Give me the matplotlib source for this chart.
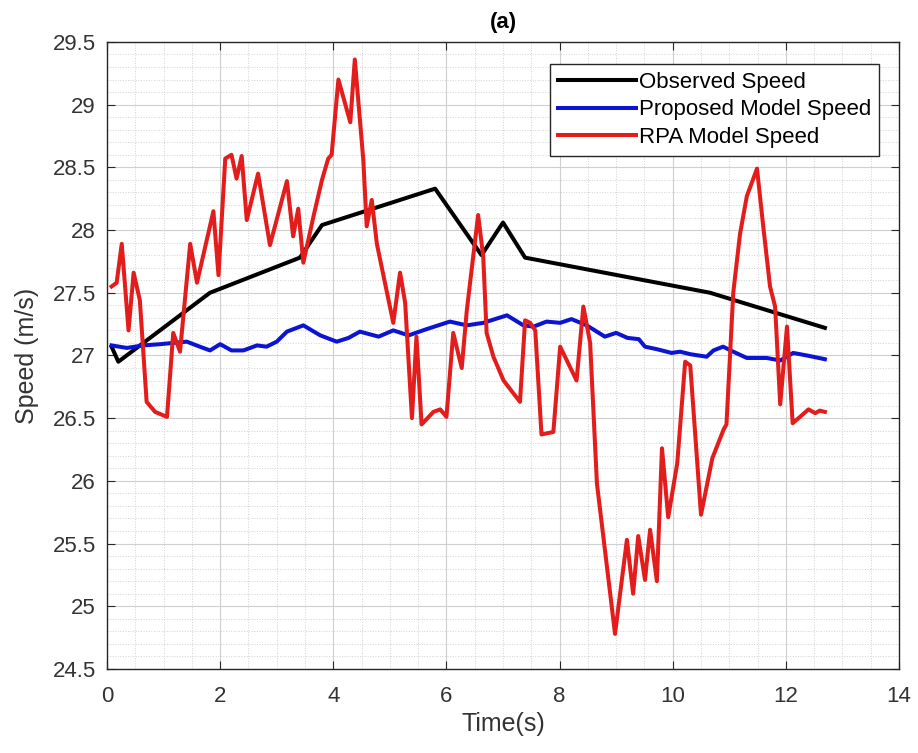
import numpy as np
import matplotlib.pyplot as plt
from matplotlib.ticker import MultipleLocator

plt.rcParams['font.family'] = ['Liberation Sans', 'DejaVu Sans']

# observed speed (m/s)
t_obs = [0.08, 0.2, 1.82, 3.41, 3.8, 5.8, 6.62, 7.0, 7.39, 10.66, 12.69]
v_obs = [27.07, 26.95, 27.5, 27.78, 28.04, 28.33, 27.8, 28.06, 27.78, 27.5, 27.22]

# proposed model
t_prop = [0.08, 0.35, 0.64, 0.94, 1.41, 1.64, 1.82, 2.0, 2.2, 2.41, 2.65, 2.82, 3.0,
          3.18, 3.47, 3.77, 4.06, 4.27, 4.47, 4.8, 5.06, 5.33, 5.65, 6.06, 6.36,
          6.65, 7.07, 7.36, 7.54, 7.77, 8.01, 8.21, 8.48, 8.8, 9.0, 9.2, 9.4, 9.51,
          9.72, 9.98, 10.13, 10.31, 10.6, 10.72, 10.89, 11.07, 11.31, 11.66, 11.9,
          12.13, 12.37, 12.69]
v_prop = [27.08, 27.06, 27.08, 27.09, 27.11, 27.07, 27.04, 27.09, 27.04, 27.04, 27.08,
          27.07, 27.11, 27.19, 27.24, 27.16, 27.11, 27.14, 27.19, 27.15, 27.2, 27.16,
          27.21, 27.27, 27.24, 27.26, 27.32, 27.24, 27.23, 27.27, 27.26, 27.29, 27.24,
          27.15, 27.18, 27.14, 27.13, 27.07, 27.05, 27.02, 27.03, 27.01, 26.99, 27.04,
          27.07, 27.03, 26.98, 26.98, 26.96, 27.02, 27.0, 26.97]

# RPA model
t_rpa = [0.08, 0.17, 0.26, 0.38, 0.47, 0.58, 0.70, 0.85, 1.06, 1.17, 1.29, 1.47, 1.59,
         1.88, 1.97, 2.09, 2.20, 2.29, 2.38, 2.47, 2.67, 2.88, 3.18, 3.29, 3.38, 3.47,
         3.65, 3.80, 3.91, 3.97, 4.09, 4.30, 4.38, 4.53, 4.59, 4.68, 4.77, 5.06, 5.18,
         5.27, 5.39, 5.47, 5.56, 5.77, 5.89, 6.00, 6.12, 6.27, 6.36, 6.56, 6.65, 6.71,
         6.83, 7.01, 7.18, 7.30, 7.39, 7.48, 7.57, 7.68, 7.89, 8.01, 8.30, 8.42, 8.54,
         8.66, 8.98, 9.19, 9.30, 9.39, 9.51, 9.60, 9.72, 9.81, 9.92, 10.08, 10.22,
         10.31, 10.50, 10.70, 10.90, 10.95, 11.07, 11.19, 11.31, 11.49, 11.60, 11.72,
         11.81, 11.90, 12.02, 12.12, 12.25, 12.40, 12.52, 12.60, 12.69]
v_rpa = [27.55, 27.58, 27.89, 27.20, 27.66, 27.44, 26.63, 26.55, 26.51, 27.18, 27.03,
         27.89, 27.58, 28.15, 27.64, 28.57, 28.60, 28.41, 28.59, 28.08, 28.45, 27.88,
         28.39, 27.95, 28.17, 27.74, 28.11, 28.40, 28.57, 28.60, 29.20, 28.86, 29.36,
         28.56, 28.03, 28.24, 27.89, 27.26, 27.66, 27.42, 26.50, 27.15, 26.45, 26.55,
         26.57, 26.51, 27.18, 26.90, 27.36, 28.12, 27.79, 27.18, 26.99, 26.80, 26.70,
         26.63, 27.28, 27.26, 27.20, 26.37, 26.39, 27.07, 26.80, 27.39, 27.10, 25.98,
         24.78, 25.53, 25.10, 25.56, 25.21, 25.61, 25.20, 26.26, 25.71, 26.14, 26.95,
         26.92, 25.73, 26.18, 26.41, 26.45, 27.50, 27.97, 28.27, 28.49, 28.03, 27.55,
         27.39, 26.61, 27.23, 26.46, 26.51, 26.57, 26.54, 26.56, 26.55]

fig = plt.figure(figsize=(9.18, 7.53), dpi=100)
ax = fig.add_axes([0.1166, 0.1116, 0.8627, 0.8327])

ax.plot(t_obs, v_obs, color='black', lw=2.9, label='Observed Speed')
ax.plot(t_prop, v_prop, color='#0a14d2', lw=2.9, label='Proposed Model Speed')
ax.plot(t_rpa, v_rpa, color='#e31c1c', lw=2.9, label='RPA Model Speed')

ax.set_xlim(0, 14)
ax.set_ylim(24.5, 29.5)
ax.xaxis.set_major_locator(MultipleLocator(2))
ax.xaxis.set_minor_locator(MultipleLocator(0.5))
ax.yaxis.set_major_locator(MultipleLocator(0.5))
ax.yaxis.set_minor_locator(MultipleLocator(0.1))
ax.set_yticks(np.arange(24.5, 29.51, 0.5))
ax.set_yticklabels(['24.5', '25', '25.5', '26', '26.5', '27', '27.5', '28', '28.5', '29', '29.5'])

ax.grid(which='major', color='#cfcfcf', lw=0.8)
ax.grid(which='minor', color='#d2d2d2', lw=0.7, ls=':')
ax.set_axisbelow(True)
ax.tick_params(which='major', direction='in', top=True, right=True, length=6,
               labelsize=16, labelcolor='#333333', color='#262626', pad=8)
ax.tick_params(axis='x', which='major', pad=12)
ax.tick_params(which='minor', length=0)
for s in ax.spines.values():
    s.set_color('#262626')
    s.set_linewidth(1.0)

ax.set_title('(a)', fontsize=16, fontweight='bold', pad=10)
ax.set_xlabel('Time(s)', fontsize=18, color='#333333', labelpad=4)
ax.set_ylabel('Speed (m/s)', fontsize=18, color='#333333', labelpad=10)

leg = ax.legend(loc='upper right', bbox_to_anchor=(0.975, 0.965), borderaxespad=0,
                fontsize=16, handlelength=3.5, handletextpad=0.15, labelspacing=0.3,
                fancybox=False, framealpha=1, edgecolor='#262626', borderpad=0.35)
leg.get_frame().set_linewidth(1.0)

fig.savefig('out.png', dpi=100)
